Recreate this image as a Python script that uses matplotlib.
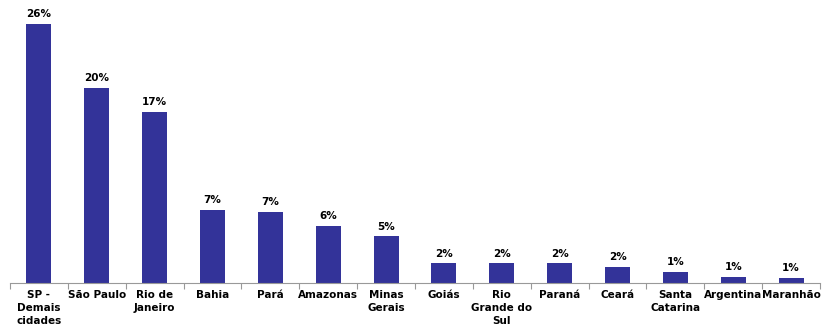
import matplotlib.pyplot as plt
import numpy as np

categories = ["SP -\nDemais\ncidades", "São Paulo", "Rio de\nJaneiro", "Bahia", "Pará",
              "Amazonas", "Minas\nGerais", "Goiás", "Rio\nGrande do\nSul", "Paraná",
              "Ceará", "Santa\nCatarina", "Argentina", "Maranhão"]
values = [26.0, 19.6, 17.2, 7.4, 7.2, 5.8, 4.7, 2.0, 2.0, 2.0, 1.6, 1.1, 0.6, 0.5]
labels = ["26%", "20%", "17%", "7%", "7%", "6%", "5%", "2%", "2%", "2%", "2%", "1%", "1%", "1%"]

fig = plt.figure(figsize=(8.24, 3.27), dpi=100)
ax = fig.add_axes([10/824, 43.7/327, 810/824, 279/327])

x = np.arange(len(categories))
ax.bar(x, values, width=0.43, color="#333399", zorder=2)

# percent labels over the bars
for xi, v, lab in zip(x, values, labels):
    ax.annotate(lab, (xi, v), xytext=(0, 3.5), textcoords="offset points",
                ha="center", va="bottom", fontsize=7.5, fontweight="bold")

ax.set_xlim(-0.5, len(categories) - 0.5)
ax.set_ylim(0, 28)
ax.set_xticks(x)
ax.set_xticklabels(categories, fontsize=7.5, fontweight="bold", linespacing=1.35, va="top")
ax.tick_params(axis="x", which="major", length=0, pad=5)
ax.set_xticks(np.arange(len(categories) + 1) - 0.5, minor=True)
ax.tick_params(axis="x", which="minor", length=4, color="#999999", width=0.8)
ax.set_yticks([])
for s in ["top", "right", "left"]:
    ax.spines[s].set_visible(False)
ax.spines["bottom"].set_color("#999999")
ax.spines["bottom"].set_linewidth(0.8)

plt.savefig("out.png", dpi=100)
